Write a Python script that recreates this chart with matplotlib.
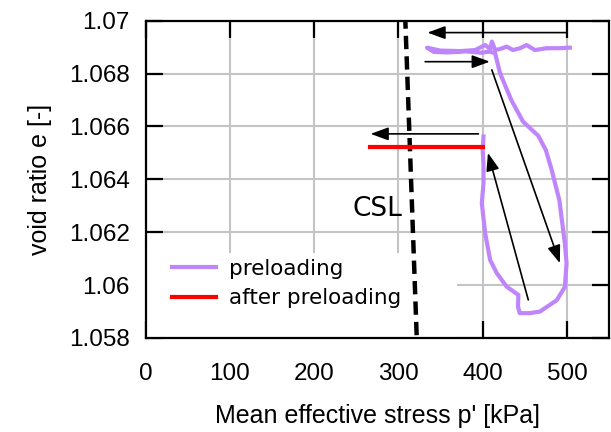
import matplotlib.pyplot as plt
from matplotlib.patches import Rectangle

# preloading path (p' in kPa, void ratio e)
pre_p = [503.5, 491.7, 476, 462, 452.3, 444.4, 436, 428.6, 420.7, 414.8, 411, 409, 403,
         391, 373.4, 349.7, 334,
         342, 358, 380, 398, 408, 414.8,
         420.7, 434, 448, 466, 475, 482, 491, 497.6, 499.6, 497.6, 488, 468, 456, 444, 442,
         442.4, 428.6, 416.8, 408.9, 403, 399, 401, 401, 400, 401]
pre_e = [1.06898, 1.06896, 1.06896, 1.06889, 1.06908, 1.06896, 1.06889, 1.06902, 1.06893,
         1.06889, 1.06921, 1.06893, 1.06908,
         1.06889, 1.06885, 1.06887, 1.06898,
         1.06882, 1.06880, 1.06884, 1.06879, 1.06883, 1.06877,
         1.06801, 1.06700, 1.06618, 1.06565, 1.06511, 1.06435, 1.06322, 1.06158, 1.06083,
         1.05993, 1.05943, 1.05900, 1.05894, 1.05894, 1.05919,
         1.05963, 1.05994, 1.06045, 1.06095, 1.06196, 1.06310, 1.06385, 1.06461, 1.06511, 1.06562]

after_p = [266, 401]
after_e = [1.06523, 1.06523]

csl_p = [308, 322]
csl_e = [1.0702, 1.0578]

# arrows: (tail p, tail e, head p, head e)
arrows = [
    (499.6, 1.06955, 334.5, 1.06955),
    (331.8, 1.06845, 408.5, 1.06845),
    (410.9, 1.06814, 491.7, 1.06083),
    (454.2, 1.05944, 406.3, 1.06500),
    (395.0, 1.06572, 267.0, 1.06572),
]

xticks = [0, 100, 200, 300, 400, 500]
yticks = [1.058, 1.06, 1.062, 1.064, 1.066, 1.068, 1.07]
ytick_labels = ['1.058', '1.06', '1.062', '1.064', '1.066', '1.068', '1.07']

plt.rcParams['font.family'] = ['Liberation Sans', 'DejaVu Sans']

fig = plt.figure(figsize=(6.11, 4.32), dpi=100)
ax = fig.add_axes([145.7 / 611, 1 - 338 / 432, (609 - 145.7) / 611, (338 - 20.7) / 432])

ax.set_xlim(0, 550)
ax.set_ylim(1.058, 1.07)
ax.set_xticks(xticks)
ax.set_yticks(yticks)
ax.set_yticklabels(ytick_labels)
ax.tick_params(direction='in', length=12, width=1.6, labelsize=17.5,
               top=True, right=True)
ax.tick_params(axis='x', pad=18)
ax.tick_params(axis='y', pad=11.5)
for s in ax.spines.values():
    s.set_linewidth(1.6)

ax.set_axisbelow(True)
ax.grid(True, color='#c4c4c4', lw=1.5)

# white key box over the grid
ax.add_patch(Rectangle((0, 0), 0.672, 0.268, transform=ax.transAxes,
                       facecolor='white', edgecolor='none', zorder=1))

ax.plot(csl_p, csl_e, color='black', lw=3.2, ls=(0, (3, 1.6)), zorder=3)
ax.plot(pre_p, pre_e, color='#bf85fb', lw=3, label='preloading', zorder=4,
        solid_joinstyle='round')
ax.plot(after_p, after_e, color='#ff0000', lw=3, label='after preloading', zorder=4)

for x0, y0, x1, y1 in arrows:
    ax.annotate('', xy=(x1, y1), xytext=(x0, y0),
                arrowprops=dict(arrowstyle='-|>,head_length=0.6,head_width=0.22',
                                mutation_scale=18, color='black', lw=1.2,
                                shrinkA=0, shrinkB=0), zorder=5)

ax.text(275, 1.06288, 'CSL', fontsize=19, family='DejaVu Sans',
        ha='center', va='center', zorder=5)

leg = ax.legend(loc='upper left', bbox_to_anchor=(0.056, 0.25), frameon=False,
                prop={'family': 'DejaVu Sans', 'size': 15.5}, handlelength=2.05,
                handletextpad=0.6, labelspacing=0.45, borderpad=0, borderaxespad=0)
leg.set_zorder(6)

ax.set_xlabel("Mean effective stress p' [kPa]", fontsize=18, labelpad=14)
ax.set_ylabel('void ratio e [-]', fontsize=18, labelpad=12)

fig.savefig('out.png', dpi=100)
